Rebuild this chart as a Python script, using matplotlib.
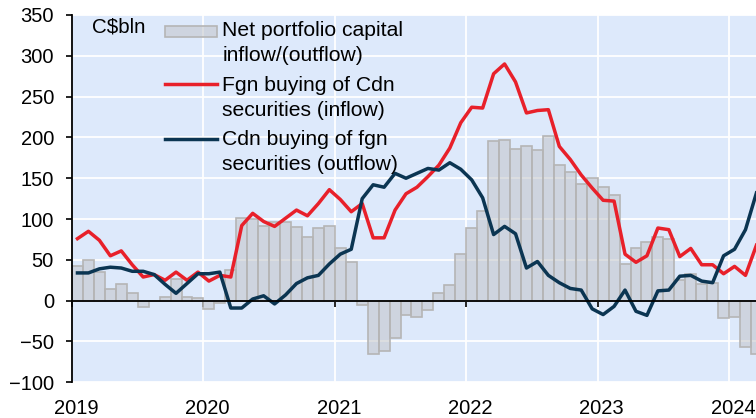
import numpy as np
import matplotlib
matplotlib.use("Agg")
import matplotlib.pyplot as plt
from matplotlib.patches import Rectangle
from matplotlib.legend_handler import HandlerPatch

plt.rcParams['font.family'] = ['Liberation Sans', 'DejaVu Sans']

# ---- data (monthly, Jan 2019 .. Mar 2024) ----
start_year = 2019
net_flow = [42, 50, 35, 14, 21, 10, -8, 0, 4, 27, 5, 3,
            -10, -3, 38, 101, 100, 91, 96, 97, 90, 78, 89, 91,
            64, 47, -5, -65, -62, -46, -18, -20, -11, 10, 19, 57,
            89, 110, 196, 197, 186, 190, 184, 202, 166, 158, 143, 150,
            139, 129, 45, 64, 72, 78, 75, 25, 33, 21, 22, -21,
            -20, -57, -65]
fgn_buying = [76, 85, 74, 55, 61, 44, 29, 32, 25, 35, 25, 35,
              24, 31, 29, 92, 107, 97, 91, 101, 111, 104, 119, 136,
              124, 109, 119, 77, 77, 111, 131, 139, 152, 166, 187, 218,
              237, 236, 278, 290, 268, 230, 233, 234, 189, 173, 154, 138,
              123, 122, 57, 47, 55, 89, 87, 54, 64, 44, 44, 33,
              42, 31, 68]
cdn_buying = [34, 34, 39, 41, 40, 36, 36, 32, 20, 9, 21, 33,
              33, 35, -9, -9, 2, 6, -4, 7, 21, 28, 31, 45,
              57, 63, 125, 142, 139, 156, 150, 156, 162, 160, 169, 161,
              148, 126, 81, 91, 82, 40, 48, 31, 22, 15, 13, -10,
              -17, -7, 13, -13, -18, 12, 13, 30, 31, 24, 22, 55,
              63, 87, 132]
year_ticks = [2019, 2020, 2021, 2022, 2023, 2024]
year_labels = ['2019', '2020', '2021', '2022', '2023', '2024']
y_ticks = list(range(-100, 351, 50))
labels = ['Net portfolio capital\ninflow/(outflow)',
          'Fgn buying of Cdn\nsecurities (inflow)',
          'Cdn buying of fgn\nsecurities (outflow)']

n = len(net_flow)
x = start_year + (np.arange(n) + 0.5) / 12.0

# ---- figure ----
fig = plt.figure(figsize=(7.56, 4.18), dpi=100)
W, H = 756, 418
ax = fig.add_axes([72 / W, (H - 382.3) / H, 684 / W, 367.3 / H])
ax.set_facecolor('#dde9fb')

FS = 14.5
LFS = 15.2
bars = ax.bar(x, net_flow, width=1 / 12.0, facecolor=(0.76, 0.77, 0.79, 0.55),
              edgecolor='#b5b5b5', linewidth=1.2, zorder=3)
red, = ax.plot(x, fgn_buying, color='#e8202a', lw=2.5, zorder=5,
               solid_joinstyle='round')
blue, = ax.plot(x, cdn_buying, color='#0b3552', lw=2.5, zorder=6,
                solid_joinstyle='round')

ax.set_xlim(2019, 2024.205)
ax.set_ylim(-100, 350)
ax.set_yticks(y_ticks)
ax.tick_params(axis='y', direction='out', length=4, width=1.2, pad=9,
               labelsize=FS, color='black')
ax.grid(True, color='white', lw=1.3, zorder=1)
ax.set_axisbelow(True)

for s in ['top', 'right']:
    ax.spines[s].set_visible(False)
ax.spines['left'].set_linewidth(1.3)
ax.spines['left'].set_zorder(7)
ax.spines['bottom'].set_position(('data', 0))
ax.spines['bottom'].set_linewidth(1.3)
ax.spines['bottom'].set_zorder(7)
ax.set_xticks(year_ticks)
ax.set_xticklabels([])
ax.tick_params(axis='x', direction='out', length=4, width=1.2, color='black')

sec = ax.secondary_xaxis(0)
sec.set_xticks([y + 0.03 for y in year_ticks])
sec.set_xticklabels(year_labels)
sec.tick_params(axis='x', length=0, pad=12, labelsize=FS)
sec.spines['bottom'].set_visible(False)

ax.text(0.029, 1 - (33 - 15) / 367.3, 'C$bln', transform=ax.transAxes,
        fontsize=FS + 0.3, va='baseline', ha='left', zorder=8)


def bar_patch(legend, orig_handle, xdescent, ydescent, width, height, fontsize):
    h = 7.9
    return Rectangle((-xdescent, -ydescent + height / 2 - h / 2), width, h)


leg = ax.legend([bars.patches[0], red, blue], labels, loc='upper left',
                bbox_to_anchor=((165 - 72) / 684, 1 - (21 - 15) / 367.3),
                frameon=False, fontsize=LFS, handlelength=2.45,
                handleheight=1.15, handletextpad=0.26, labelspacing=0.5,
                borderpad=0, borderaxespad=0,
                handler_map={bars.patches[0]: HandlerPatch(patch_func=bar_patch)})
leg.set_zorder(8)
for t in leg.get_texts():
    t.set_linespacing(1.4)
for hp in leg._legend_handle_box.get_children()[0].get_children():
    hp.align = 'top'

fig.savefig('out.png', dpi=100)
